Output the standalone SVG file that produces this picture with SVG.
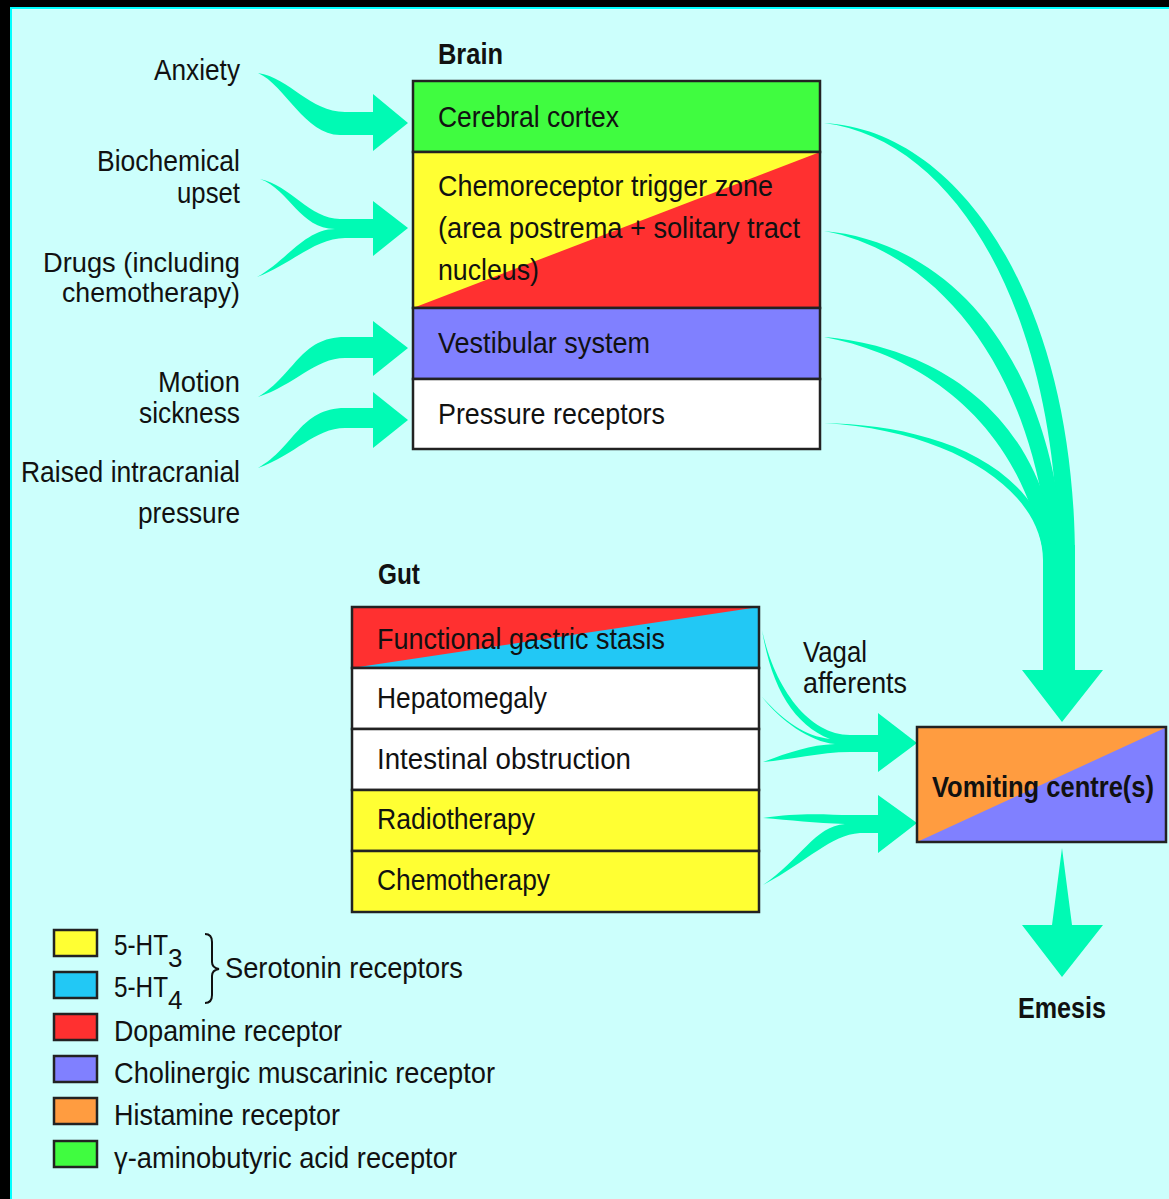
<svg xmlns="http://www.w3.org/2000/svg" width="1169" height="1199" viewBox="0 0 1169 1199">
<style>
text{font-family:"Liberation Sans",Arial,sans-serif;font-size:30px;fill:#111}
.b{font-weight:bold}
.box{stroke:#222;stroke-width:2.5}
.arr{fill:#00fab4;stroke:none}
.sw{stroke:#222;stroke-width:2.5}
</style>
<rect x="0" y="0" width="1169" height="1199" fill="#ccfffc"/>
<rect x="0" y="0" width="1169" height="7" fill="#000"/>
<rect x="0" y="0" width="10" height="1199" fill="#000"/>
<rect x="10" y="7" width="1159" height="2" fill="#00ffff"/>
<rect x="10" y="7" width="2" height="1192" fill="#00ffff"/>

<g id="connectors">
  <path class="arr" d="M258,73 C290,78 310,112 345,112 L373,112 L373,94 L408,123 L373,151 L373,135 L340,135 C305,135 285,85 258,73 Z"/>
  <path class="arr" d="M260,179 C290,185 310,219 340,219 L373,219 L373,201 L408,228 L373,256 L373,238 L345,238 C315,238 290,265 257,277 C285,262 305,229 335,229 C300,229 290,190 260,179 Z"/>
  <path class="arr" d="M258,397 C295,375 300,337 345,337 L373,337 L373,321 L408,348 L373,376 L373,358 L345,358 C315,358 295,385 258,397 Z"/>
  <path class="arr" d="M258,468 C295,447 300,408 345,408 L373,408 L373,392 L408,420 L373,448 L373,428 L345,428 C315,428 295,455 258,468 Z"/>
  <path class="arr" d="M824,123 C960,130 1075,300 1075,560 L1058,560 C1058,320 960,140 824,123 Z"/>
  <path class="arr" d="M824,231 C930,240 1050,330 1065,560 L1050,560 C1035,360 930,250 824,231 Z"/>
  <path class="arr" d="M824,337 C920,345 1040,400 1058,560 L1045,560 C1020,420 920,355 824,337 Z"/>
  <path class="arr" d="M824,423 C920,425 1035,455 1055,560 L1043,560 C1043,490 950,430 824,423 Z"/>
  <path class="arr" d="M1043,545 L1075,545 L1075,670 L1103,670 L1062,722 L1022,670 L1043,670 Z"/>
  <path class="arr" d="M1062,848 L1072,925 L1103,925 L1062,977 L1022,925 L1052,925 Z"/>
  <path class="arr" d="M762,630 C775,690 810,735 850,735 L878,735 L878,713 L917,743 L878,772 L878,752 L850,752 C820,752 790,760 763,762 C790,752 810,745 835,744 C810,742 780,720 762,697 C785,722 805,736 830,739 C795,725 772,690 762,630 Z"/>
  <path class="arr" d="M763,818 C800,812 830,815 850,815 L878,815 L878,795 L917,823 L878,853 L878,833 L860,833 C830,835 810,860 763,885 C800,860 815,826 845,824 C815,823 790,820 763,818 Z"/>
</g>

<g id="labels-left">
  <text x="154" y="80" textLength="86" lengthAdjust="spacingAndGlyphs">Anxiety</text>
  <text><tspan x="97" y="171" textLength="143" lengthAdjust="spacingAndGlyphs">Biochemical</tspan><tspan x="177" y="203" textLength="63" lengthAdjust="spacingAndGlyphs">upset</tspan></text>
  <text style="font-size:28px"><tspan x="43" y="272" textLength="197" lengthAdjust="spacingAndGlyphs">Drugs (including</tspan><tspan x="62" y="302" textLength="178" lengthAdjust="spacingAndGlyphs">chemotherapy)</tspan></text>
  <text><tspan x="158" y="392" textLength="82" lengthAdjust="spacingAndGlyphs">Motion</tspan><tspan x="139" y="423" textLength="101" lengthAdjust="spacingAndGlyphs">sickness</tspan></text>
  <text><tspan x="21" y="482" textLength="219" lengthAdjust="spacingAndGlyphs">Raised intracranial</tspan><tspan x="138" y="523" textLength="102" lengthAdjust="spacingAndGlyphs">pressure</tspan></text>
</g>

<g id="brain">
  <text class="b" x="438" y="64" textLength="65" lengthAdjust="spacingAndGlyphs">Brain</text>
  <g id="cerebral-cortex">
    <rect class="box" x="413" y="81" width="407" height="71" fill="#40fc40"/>
    <text x="438" y="127" textLength="181" lengthAdjust="spacingAndGlyphs">Cerebral cortex</text>
  </g>
  <g id="ctz">
    <rect x="413" y="152" width="407" height="156" fill="#ffff33"/>
    <polygon points="413,308 820,152 820,308" fill="#ff3030"/>
    <rect class="box" x="413" y="152" width="407" height="156" fill="none"/>
    <text><tspan x="438" y="196" textLength="335" lengthAdjust="spacingAndGlyphs">Chemoreceptor trigger zone</tspan><tspan x="438" y="238" textLength="362" lengthAdjust="spacingAndGlyphs">(area postrema + solitary tract</tspan><tspan x="438" y="280" textLength="101" lengthAdjust="spacingAndGlyphs">nucleus)</tspan></text>
  </g>
  <g id="vestibular">
    <rect class="box" x="413" y="308" width="407" height="71" fill="#8080ff"/>
    <text x="438" y="353" textLength="212" lengthAdjust="spacingAndGlyphs">Vestibular system</text>
  </g>
  <g id="pressure-receptors">
    <rect class="box" x="413" y="379" width="407" height="70" fill="#ffffff"/>
    <text x="438" y="424" textLength="227" lengthAdjust="spacingAndGlyphs">Pressure receptors</text>
  </g>
</g>

<g id="gut">
  <text class="b" x="378" y="584" textLength="42" lengthAdjust="spacingAndGlyphs">Gut</text>
  <g id="gastric-stasis">
    <rect x="352" y="607" width="407" height="61" fill="#ff3030"/>
    <polygon points="352,668 759,607 759,668" fill="#22c8f5"/>
    <rect class="box" x="352" y="607" width="407" height="61" fill="none"/>
    <text x="377" y="649" textLength="288" lengthAdjust="spacingAndGlyphs">Functional gastric stasis</text>
  </g>
  <g id="hepatomegaly">
    <rect class="box" x="352" y="668" width="407" height="61" fill="#ffffff"/>
    <text x="377" y="708" textLength="170" lengthAdjust="spacingAndGlyphs">Hepatomegaly</text>
  </g>
  <g id="intestinal-obstruction">
    <rect class="box" x="352" y="729" width="407" height="61" fill="#ffffff"/>
    <text x="377" y="769" textLength="254" lengthAdjust="spacingAndGlyphs">Intestinal obstruction</text>
  </g>
  <g id="radiotherapy">
    <rect class="box" x="352" y="790" width="407" height="61" fill="#ffff33"/>
    <text x="377" y="829" textLength="158" lengthAdjust="spacingAndGlyphs">Radiotherapy</text>
  </g>
  <g id="chemotherapy">
    <rect class="box" x="352" y="851" width="407" height="61" fill="#ffff33"/>
    <text x="377" y="890" textLength="173" lengthAdjust="spacingAndGlyphs">Chemotherapy</text>
  </g>
</g>

<g id="vagal-label">
  <text><tspan x="803" y="662" textLength="64" lengthAdjust="spacingAndGlyphs">Vagal</tspan><tspan x="803" y="693" textLength="104" lengthAdjust="spacingAndGlyphs">afferents</tspan></text>
</g>

<g id="vomiting-centre">
  <rect x="917" y="727" width="250" height="115" fill="#ff9c40"/>
  <polygon points="917,842 1167,727 1167,842" fill="#8080ff"/>
  <rect class="box" x="917" y="727" width="249" height="115" fill="none"/>
  <text class="b" x="932" y="797" textLength="222" lengthAdjust="spacingAndGlyphs">Vomiting centre(s)</text>
</g>

<g id="emesis">
  <text class="b" x="1018" y="1018" textLength="88" lengthAdjust="spacingAndGlyphs">Emesis</text>
</g>

<g id="legend">
  <rect class="sw" x="54" y="930" width="43" height="26" fill="#ffff33"/>
  <rect class="sw" x="54" y="972" width="43" height="26" fill="#22c8f5"/>
  <rect class="sw" x="54" y="1014" width="43" height="26" fill="#ff3030"/>
  <rect class="sw" x="54" y="1056" width="43" height="26" fill="#8080ff"/>
  <rect class="sw" x="54" y="1098" width="43" height="26" fill="#ff9c40"/>
  <rect class="sw" x="54" y="1141" width="43" height="26" fill="#40fc40"/>
  <text x="114" y="955"><tspan textLength="54" lengthAdjust="spacingAndGlyphs">5-HT</tspan><tspan dy="12" style="font-size:26px">3</tspan></text>
  <text x="114" y="997"><tspan textLength="54" lengthAdjust="spacingAndGlyphs">5-HT</tspan><tspan dy="12" style="font-size:26px">4</tspan></text>
  <path d="M205,934 Q212,934 212,942 L212,962 Q212,968 219,969 Q212,970 212,976 L212,995 Q212,1003 205,1003" fill="none" stroke="#111" stroke-width="2"/>
  <text x="225" y="978" textLength="238" lengthAdjust="spacingAndGlyphs">Serotonin receptors</text>
  <text x="114" y="1041" textLength="228" lengthAdjust="spacingAndGlyphs">Dopamine receptor</text>
  <text x="114" y="1083" textLength="381" lengthAdjust="spacingAndGlyphs">Cholinergic muscarinic receptor</text>
  <text x="114" y="1125" textLength="226" lengthAdjust="spacingAndGlyphs">Histamine receptor</text>
  <text x="114" y="1168" textLength="343" lengthAdjust="spacingAndGlyphs">γ-aminobutyric acid receptor</text>
</g>
</svg>
